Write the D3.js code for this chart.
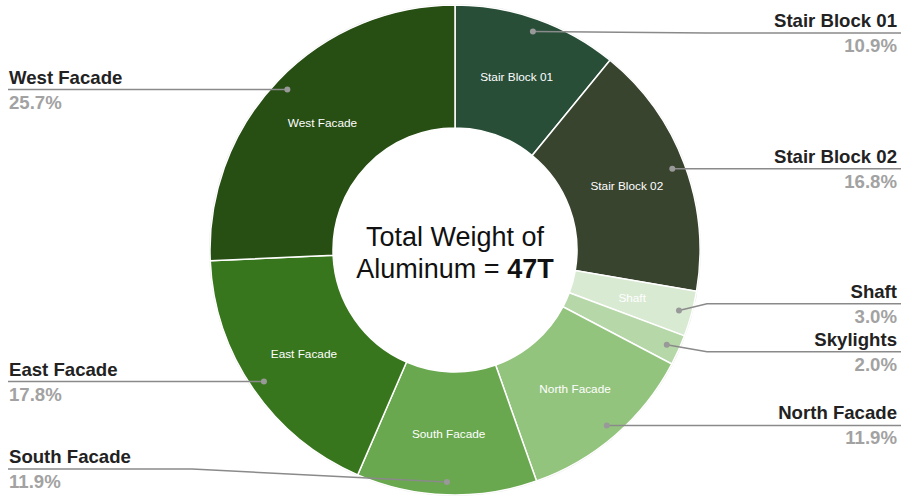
<!DOCTYPE html>
<html>
<head>
<meta charset="utf-8">
<script src="https://cdn.jsdelivr.net/npm/d3@7/dist/d3.min.js"></script>
<style>
  body { margin: 0; background: #fff; }
  svg { display: block; font-family: Arial, "Liberation Sans", sans-serif; }
</style>
</head>
<body>
<svg width="904" height="496"></svg>
<script>
// slices, clockwise from 12 o'clock
var names = ["Stair Block 01", "Stair Block 02", "Shaft", "Skylights",
             "North Facade", "South Facade", "East Facade", "West Facade"];
var shares = [10.9, 16.8, 3.0, 2.0, 11.9, 11.9, 17.8, 25.7];
var colors = ["#284e38", "#39442f", "#d9ead3", "#b6d7a8",
              "#93c47d", "#6aa84f", "#38761d", "#274e13"];
var centerLines = ["Total Weight of", "Aluminum = "];
var centerBold = "47T";

var svg = d3.select("svg"),
    width = +svg.attr("width"),
    height = +svg.attr("height");

var cx = 455, cy = 250,
    outerR = 245, innerR = 122;

var data = names.map(function(n, i) { return { name: n, value: shares[i], color: colors[i] }; });

var pie = d3.pie().sort(null).value(function(d) { return d.value; });
var arc = d3.arc().innerRadius(innerR).outerRadius(outerR);
var dotArc = d3.arc().innerRadius(outerR * 0.947).outerRadius(outerR * 0.947);

var arcs = pie(data);

var g = svg.append("g").attr("transform", "translate(" + cx + "," + cy + ")");

g.append("circle")
    .attr("r", outerR + 0.5)
    .attr("fill", "none")
    .attr("stroke", "#e2e2e2")
    .attr("stroke-width", 1);

g.selectAll("path.slice")
    .data(arcs)
    .enter().append("path")
        .attr("class", "slice")
        .attr("d", arc)
        .attr("fill", function(d) { return d.data.color; })
        .attr("stroke", "#fff")
        .attr("stroke-width", 1.5);

// labels inside the slices (skipped where too thin)
g.selectAll("text.inner")
    .data(arcs.filter(function(d) { return d.data.value >= 3; }))
    .enter().append("text")
        .attr("class", "inner")
        .attr("transform", function(d) { return "translate(" + arc.centroid(d) + ")"; })
        .attr("text-anchor", "middle")
        .attr("dy", "0.35em")
        .attr("fill", "#fff")
        .style("font-size", "11.8px")
        .text(function(d) { return d.data.name; });

// outside labels: dot positions, then spread them per side
var items = arcs.map(function(d) {
    var p = dotArc.centroid(d);
    var mid = (d.startAngle + d.endAngle) / 2;
    return { d: d, x: p[0] + cx, y: p[1] + cy, right: mid < Math.PI, ly: p[1] + cy };
});

function spread(list) {
    var gap = 48, top = 33, bottom = height - 27;
    list.sort(function(a, b) { return a.y - b.y; });
    for (var k = 0; k < 30; k++) {
        for (var i = 1; i < list.length; i++) {
            var over = gap - (list[i].ly - list[i - 1].ly);
            if (over > 0) {
                list[i - 1].ly -= over / 2;
                list[i].ly += over / 2;
            }
        }
        list.forEach(function(it) { it.ly = Math.max(top, Math.min(bottom, it.ly)); });
    }
}
spread(items.filter(function(it) { return it.right; }));
spread(items.filter(function(it) { return !it.right; }));

var lab = svg.append("g").attr("class", "labels");

items.forEach(function(it) {
    var edgeX = it.right ? width - 3 : 8;
    var elbowX = it.right ? cx + outerR + 7 : cx - outerR - 18;
    var pts = [[it.x, it.y]];
    if (Math.abs(it.ly - it.y) > 1) pts.push([elbowX, it.ly]);
    else pts[0] = [it.x, it.ly];
    pts.push([edgeX, it.ly]);

    lab.append("path")
        .attr("d", d3.line()(pts))
        .attr("fill", "none")
        .attr("stroke", "#8a8a8a")
        .attr("stroke-width", 1.5);

    lab.append("circle")
        .attr("cx", it.x)
        .attr("cy", it.y)
        .attr("r", 3)
        .attr("fill", "#999");

    var tx = it.right ? width - 7 : 9;
    var anchor = it.right ? "end" : "start";

    lab.append("text")
        .attr("x", tx)
        .attr("y", it.ly - 6)
        .attr("text-anchor", anchor)
        .attr("fill", "#222")
        .style("font-size", "18.6px")
        .style("font-weight", "bold")
        .text(it.d.data.name);

    lab.append("text")
        .attr("x", tx)
        .attr("y", it.ly + 19)
        .attr("text-anchor", anchor)
        .attr("fill", "#a2a2a2")
        .style("font-size", "18.6px")
        .style("font-weight", "bold")
        .text(d3.format(".1f")(it.d.data.value) + "%");
});

// centre caption
var cap = svg.append("text")
    .attr("x", cx)
    .attr("text-anchor", "middle")
    .attr("fill", "#111")
    .style("font-size", "27px");

cap.append("tspan").attr("x", cx).attr("y", 246).text(centerLines[0]);
var l2 = cap.append("tspan").attr("x", cx).attr("y", 278);
l2.append("tspan").text(centerLines[1]);
l2.append("tspan").style("font-weight", "bold").text(centerBold);
</script>
</body>
</html>
